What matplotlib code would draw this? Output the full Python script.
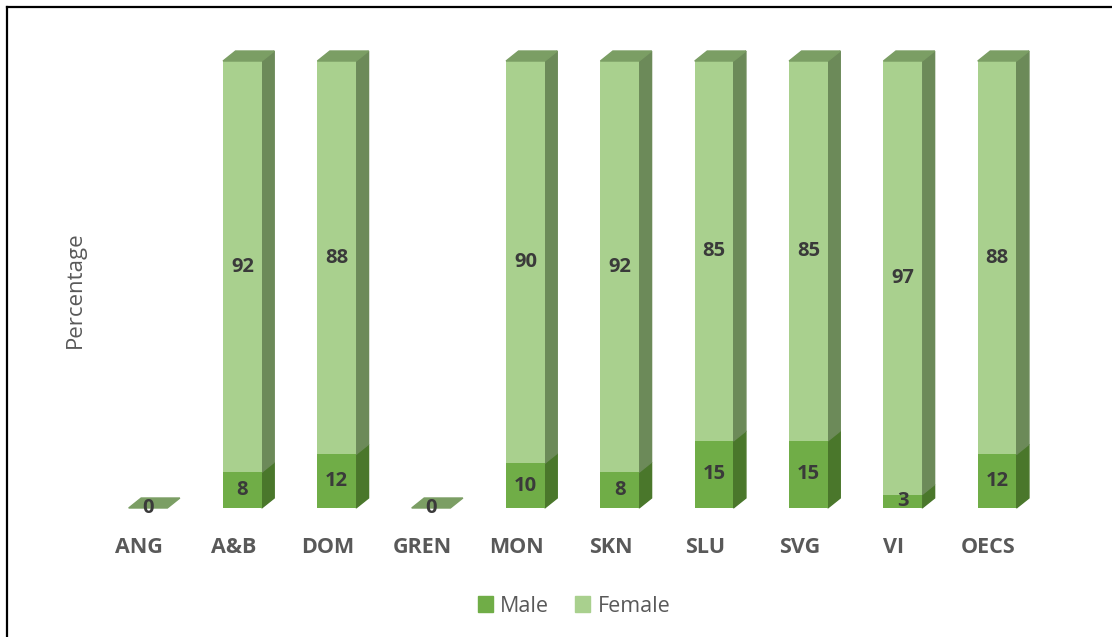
import matplotlib.pyplot as plt
import numpy as np
from matplotlib.patches import Polygon
from matplotlib.lines import Line2D
from matplotlib.patches import Patch
from matplotlib.transforms import ScaledTranslation

# data
categories = ["ANG", "A&B", "DOM", "GREN", "MON", "SKN", "SLU", "SVG", "VI", "OECS"]
male = [0, 8, 12, 0, 10, 8, 15, 15, 3, 12]
female = [0, 92, 88, 0, 90, 92, 85, 85, 97, 88]

# colours
MALE_FRONT = "#70AD47"
MALE_SIDE = "#4A772B"
FEMALE_FRONT = "#A9D08E"
FEMALE_SIDE = "#6C8A59"
TOP = "#7B9E64"
TEXT_DARK = "#3A3A3A"
TEXT_GREY = "#595959"

fig = plt.figure(figsize=(11.12, 6.37), dpi=100)
ax = fig.add_axes([0.0907, 0.2025, 0.8484, 0.7017])

x = np.arange(len(categories))
w = 0.41
dx = 0.1325   # depth offset along x (category units)
dy = 2.24     # depth offset along y (percent units)

male = np.array(male)
female = np.array(female)

ax.bar(x, male, width=w, color=MALE_FRONT, zorder=2)
ax.bar(x, female, width=w, bottom=male, color=FEMALE_FRONT, zorder=2)

lbl = dict(ha="center", va="center", fontsize=14.5, fontweight="bold",
           color=TEXT_DARK, family="Open Sans", zorder=5)

for xi, m, f in zip(x, male, female):
    r = xi + w / 2
    l = xi - w / 2
    # side faces
    if m > 0:
        ax.add_patch(Polygon([(r, 0), (r + dx, dy), (r + dx, m + dy), (r, m)],
                             closed=True, color=MALE_SIDE, zorder=1, clip_on=False))
    if f > 0:
        ax.add_patch(Polygon([(r, m), (r + dx, m + dy), (r + dx, m + f + dy), (r, m + f)],
                             closed=True, color=FEMALE_SIDE, zorder=1, clip_on=False))
    t = m + f
    ax.add_patch(Polygon([(l, t), (r, t), (r + dx, t + dy), (l + dx, t + dy)],
                         closed=True, color=TOP, zorder=3, clip_on=False))

    # value labels
    ax.text(xi, m / 2, str(m), **lbl)
    if f > 0:
        ax.text(xi, m + f / 2, str(f), **lbl)

ax.set_xlim(-0.5, len(categories) - 0.5)
ax.set_ylim(0, 100)
ax.set_xticks(x)
ax.set_xticklabels(categories, fontsize=15.5, fontweight="bold", color=TEXT_GREY,
                   family="Open Sans")
ax.tick_params(axis="x", length=0, pad=21)
# category labels sit a little left of the bar fronts
shift = ScaledTranslation(-9 / 100, 0, fig.dpi_scale_trans)
for t in ax.get_xticklabels():
    t.set_transform(t.get_transform() + shift)
ax.set_yticks([])
for s in ax.spines.values():
    s.set_visible(False)

fig.text(75 / 1112, 1 - 290 / 637, "Percentage", rotation=90, ha="center", va="center",
         fontsize=16, color=TEXT_GREY, family="Open Sans")

handles = [Patch(color=MALE_FRONT, label="Male"), Patch(color=FEMALE_FRONT, label="Female")]
fig.legend(handles=handles, loc="center", bbox_to_anchor=(574 / 1112, 1 - 606 / 637),
           ncol=2, frameon=False, prop={"family": "Open Sans", "size": 15.5},
           labelcolor=TEXT_GREY, handlelength=0.7, handleheight=0.7,
           handletextpad=0.35, columnspacing=1.2)

# outer frame (only top and left edges are visible in the original)
fig.add_artist(Line2D([7 / 1112, 1], [1 - 7 / 637, 1 - 7 / 637], color="black", lw=1.6,
                      transform=fig.transFigure))
fig.add_artist(Line2D([7 / 1112, 7 / 1112], [0, 1 - 7 / 637], color="black", lw=1.6,
                      transform=fig.transFigure))

fig.savefig("out.png", dpi=100)
